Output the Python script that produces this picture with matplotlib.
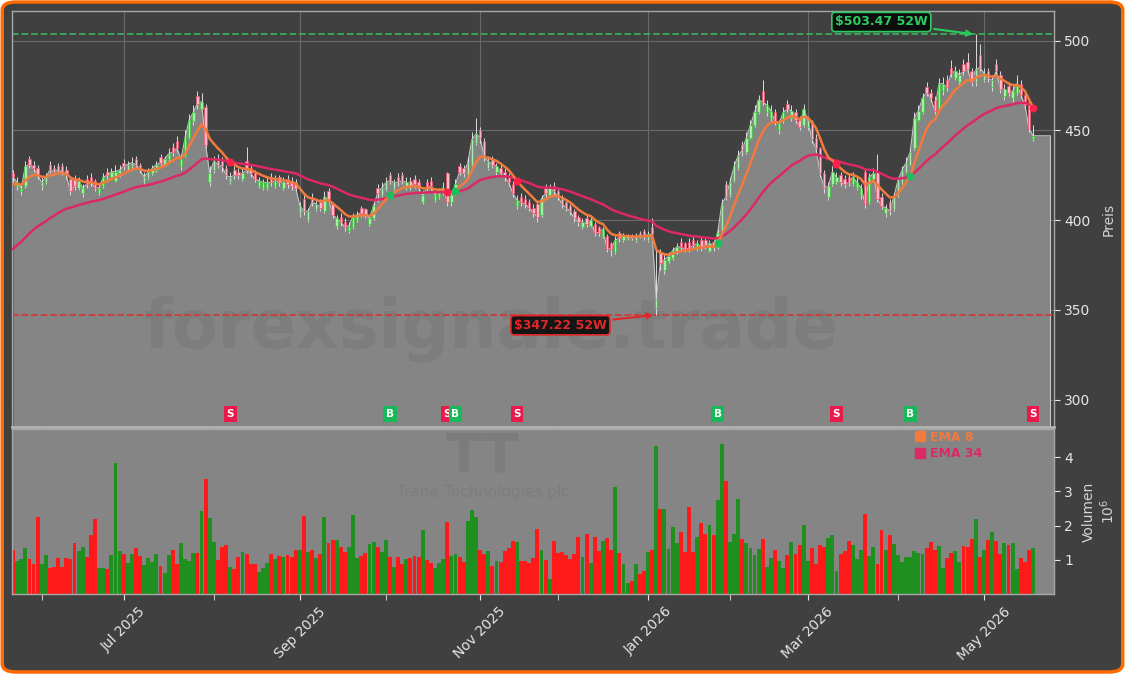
import matplotlib
matplotlib.use('Agg')
import matplotlib.pyplot as plt
import matplotlib.transforms as mtransforms
from matplotlib.patches import FancyBboxPatch
from matplotlib.lines import Line2D
import numpy as np
import pandas as pd

# trading calendar (NYSE holidays removed)
first_day = '2025-05-21'
last_day = '2026-05-19'
holidays = ['2025-05-26', '2025-06-19', '2025-07-04', '2025-09-01', '2025-11-27',
            '2025-12-25', '2026-01-01', '2026-01-19', '2026-02-16', '2026-04-03']
dates = pd.bdate_range(first_day, last_day).drop(pd.to_datetime(holidays))

opens = [
    426, 419, 416, 419, 434, 431, 429, 419, 421, 431,
    429, 430, 430, 428, 423, 423, 418, 415, 423, 424,
    422, 415, 419, 427, 424, 422, 426, 432, 428, 430,
    434, 431, 421, 424, 426, 428, 435, 431, 434, 441,
    444, 430, 436, 446, 455, 469, 462, 463, 421, 428,
    434, 433, 429, 421, 428, 427, 423, 433, 429, 426,
    419, 418, 418, 424, 419, 424, 418, 423, 422, 421,
    404, 412, 400, 413, 406, 410, 405, 416, 409, 397,
    402, 399, 394, 396, 400, 407, 406, 398, 401, 418,
    414, 417, 425, 418, 424, 425, 418, 422, 423, 421,
    410, 421, 422, 411, 413, 415, 426, 410, 415, 430,
    429, 424, 431, 443, 450, 444, 429, 434, 427, 429,
    427, 424, 420, 408, 413, 412, 410, 407, 409, 403,
    418, 414, 419, 416, 413, 410, 408, 405, 402, 396,
    401, 397, 398, 396, 391, 391, 387, 382, 393, 389,
    390, 391, 389, 393, 394, 389, 396, 351, 382, 372,
    377, 379, 382, 388, 387, 388, 389, 384, 389, 389,
    383, 388, 385, 394, 420, 414, 422, 429, 442, 438,
    446, 453, 460, 472, 460, 457, 460, 450, 455, 465,
    457, 460, 456, 453, 452, 455, 446, 440, 426, 413,
    420, 421, 425, 423, 424, 420, 418, 414, 427, 410,
    423, 427, 413, 404, 410, 406, 414, 421, 427, 431,
    440, 456, 460, 474, 471, 467, 462, 472, 478, 485,
    479, 477, 487, 488, 483, 477, 492, 478, 483, 474,
    487, 481, 469, 475, 468, 471, 476, 470, 466, 445,
]
highs = [
    428, 424, 420, 433, 436, 433, 431, 424, 426, 433,
    431, 432, 432, 430, 424, 425, 424, 420, 425, 426,
    423, 420, 426, 429, 429, 431, 431, 434, 433, 435,
    436, 432, 427, 429, 431, 433, 437, 436, 440, 443,
    447, 437, 450, 459, 464, 472, 471, 465, 430, 436,
    437, 435, 431, 427, 430, 429, 429, 441, 431, 428,
    424, 423, 424, 426, 425, 425, 424, 425, 424, 423,
    410, 414, 407, 415, 411, 412, 416, 418, 410, 403,
    404, 401, 399, 404, 405, 408, 407, 403, 410, 420,
    421, 424, 427, 423, 426, 427, 424, 424, 425, 423,
    417, 423, 424, 416, 418, 421, 427, 416, 423, 432,
    431, 435, 449, 457, 452, 446, 436, 436, 432, 431,
    429, 426, 422, 414, 415, 414, 412, 409, 410, 414,
    420, 420, 421, 418, 414, 411, 409, 406, 403, 401,
    403, 402, 399, 397, 396, 392, 388, 391, 394, 393,
    392, 392, 393, 394, 395, 394, 401, 385, 384, 381,
    382, 385, 387, 390, 388, 390, 391, 389, 391, 390,
    389, 389, 395, 412, 422, 424, 433, 439, 444, 449,
    456, 464, 470, 478, 467, 464, 462, 456, 463, 467,
    464, 462, 458, 465, 458, 456, 448, 441, 428, 421,
    430, 427, 427, 425, 426, 427, 424, 420, 429, 426,
    429, 437, 415, 409, 412, 415, 424, 430, 435, 441,
    460, 464, 471, 477, 473, 469, 479, 480, 481, 489,
    486, 484, 490, 493, 485, 503.47, 498, 485, 485, 481,
    490, 483, 476, 477, 475, 481, 478, 472, 468, 453,
]
lows = [
    421, 417, 414, 418, 429, 427, 423, 417, 420, 426,
    425, 426, 425, 423, 414, 417, 417, 413, 418, 419,
    416, 414, 418, 423, 423, 421, 424, 428, 427, 428,
    429, 426, 419, 423, 425, 427, 430, 430, 433, 436,
    438, 428, 435, 445, 453, 462, 460, 440, 419, 426,
    429, 427, 423, 420, 423, 423, 422, 426, 424, 421,
    418, 417, 417, 419, 418, 419, 417, 418, 417, 416,
    402, 403, 399, 408, 405, 405, 404, 410, 401, 395,
    397, 394, 393, 395, 399, 402, 401, 397, 400, 410,
    413, 416, 420, 417, 419, 420, 417, 417, 418, 416,
    409, 416, 417, 410, 412, 414, 408, 408, 414, 425,
    424, 423, 430, 442, 443, 433, 428, 429, 425, 424,
    422, 419, 413, 406, 408, 407, 405, 402, 399, 402,
    413, 413, 414, 411, 407, 405, 403, 399, 397, 395,
    396, 396, 391, 391, 390, 382, 380, 381, 388, 388,
    389, 389, 388, 390, 389, 388, 391, 347.22, 372, 370,
    376, 378, 381, 383, 382, 382, 384, 383, 383, 384,
    382, 383, 384, 393, 411, 413, 421, 428, 436, 437,
    445, 452, 459, 464, 458, 455, 453, 448, 454, 460,
    455, 454, 450, 452, 450, 443, 438, 424, 415, 411,
    419, 420, 419, 418, 419, 419, 417, 412, 407, 409,
    421, 410, 406, 402, 403, 405, 413, 420, 426, 430,
    439, 455, 459, 469, 466, 459, 461, 470, 472, 480,
    478, 476, 481, 482, 475, 475, 483, 477, 477, 472,
    481, 471, 467, 469, 466, 470, 468, 462, 449, 444,
]
closes = [
    424, 421, 418, 430, 431, 429, 425, 421, 424, 428,
    427, 428, 427, 425, 416, 419, 422, 418, 420, 421,
    418, 418, 424, 425, 427, 427, 428, 430, 431, 432,
    431, 428, 424, 427, 429, 431, 432, 434, 437, 438,
    440, 434, 446, 456, 460, 465, 466, 442, 426, 433,
    431, 430, 425, 424, 425, 425, 426, 428, 426, 423,
    422, 421, 421, 421, 422, 421, 421, 420, 419, 418,
    408, 405, 405, 410, 409, 407, 413, 412, 403, 401,
    399, 396, 397, 402, 403, 404, 403, 401, 408, 415,
    418, 421, 422, 421, 421, 422, 421, 419, 420, 418,
    414, 418, 419, 414, 416, 418, 410, 414, 420, 427,
    426, 432, 445, 448, 446, 435, 433, 431, 430, 426,
    424, 421, 415, 411, 410, 409, 407, 404, 402, 412,
    415, 418, 416, 413, 409, 407, 405, 401, 399, 399,
    398, 400, 393, 393, 395, 384, 384, 389, 390, 391,
    391, 390, 391, 391, 391, 392, 392, 356, 376, 378,
    380, 383, 385, 385, 384, 384, 386, 387, 385, 386,
    387, 385, 393, 409, 413, 421, 430, 436, 439, 446,
    453, 460, 467, 466, 464, 461, 455, 454, 460, 462,
    461, 456, 452, 462, 456, 445, 440, 426, 418, 419,
    427, 424, 421, 420, 421, 424, 421, 418, 409, 424,
    426, 412, 408, 407, 405, 413, 422, 428, 432, 438,
    457, 461, 468, 471, 468, 461, 476, 476, 474, 482,
    483, 481, 483, 484, 477, 484, 485, 482, 479, 478,
    483, 473, 473, 471, 472, 476, 470, 464, 451, 447,
]
# volume in millions of shares
volume_m = [
    1.30, 0.96, 1.03, 1.34, 1.03, 0.87, 2.25, 0.87, 1.13, 0.75,
    0.80, 1.06, 0.80, 1.06, 1.01, 1.48, 1.25, 1.39, 1.09, 1.72,
    2.20, 0.77, 0.77, 0.74, 1.13, 3.82, 1.25, 1.17, 0.91, 1.17,
    1.34, 1.10, 0.84, 1.06, 0.93, 1.17, 0.82, 0.60, 1.13, 1.29,
    0.89, 1.48, 1.01, 0.98, 1.20, 1.20, 2.42, 3.37, 2.22, 1.51,
    1.00, 1.39, 1.43, 0.80, 0.74, 1.09, 1.23, 1.17, 0.89, 0.89,
    0.63, 0.76, 0.91, 1.17, 1.01, 1.10, 1.09, 1.13, 1.09, 1.29,
    1.29, 2.28, 1.23, 1.29, 1.06, 1.17, 2.26, 1.48, 1.57, 1.57,
    1.39, 1.23, 1.37, 2.31, 1.06, 1.12, 1.20, 1.46, 1.51, 1.37,
    1.23, 1.57, 1.09, 0.80, 1.09, 0.89, 1.03, 1.06, 1.11, 1.09,
    1.86, 1.00, 0.91, 0.76, 0.91, 1.03, 2.12, 1.11, 1.17, 1.09,
    0.94, 2.14, 2.46, 2.26, 1.29, 1.17, 1.26, 0.83, 0.97, 0.94,
    1.26, 1.34, 1.54, 1.51, 0.97, 0.97, 0.90, 1.05, 1.90, 1.30,
    1.00, 0.45, 1.55, 1.20, 1.23, 1.15, 1.01, 1.17, 1.66, 1.08,
    1.77, 0.91, 1.66, 1.25, 1.56, 1.63, 1.28, 3.13, 1.20, 0.88,
    0.31, 0.39, 0.88, 0.58, 0.66, 1.22, 1.28, 4.34, 2.50, 2.50,
    1.31, 1.96, 1.50, 1.82, 1.22, 2.56, 1.23, 1.66, 2.08, 1.76,
    2.03, 1.72, 2.74, 4.39, 3.30, 1.53, 1.77, 2.77, 1.60, 1.50,
    1.34, 1.15, 1.31, 1.60, 0.80, 1.06, 1.28, 0.98, 0.77, 1.15,
    1.53, 1.18, 1.44, 2.01, 0.96, 1.34, 0.87, 1.44, 1.39, 1.63,
    1.72, 0.68, 1.17, 1.26, 1.55, 1.44, 1.01, 1.29, 2.34, 1.10,
    1.39, 0.87, 1.87, 1.29, 1.72, 1.46, 1.15, 0.93, 1.08, 1.08,
    1.25, 1.20, 1.17, 1.34, 1.51, 1.29, 1.41, 0.75, 1.04, 1.20,
    1.25, 0.94, 1.41, 1.39, 1.61, 2.20, 1.09, 1.28, 1.58, 1.82,
    1.56, 1.17, 1.50, 1.42, 1.48, 0.74, 1.06, 0.94, 1.28, 1.34,
]

# EMA values on the first visible day (history before the window)
ema8_start = 420.0
ema34_start = 384.0

signal_dates = ['2025-08-07', '2025-10-02', '2025-10-22', '2025-10-24', '2025-11-14',
                '2026-01-28', '2026-03-11', '2026-04-07', '2026-05-19']
signal_types = ['S', 'B', 'S', 'B', 'S', 'B', 'S', 'B', 'S']

company = 'Trane Technologies plc'
watermark = 'forexsignale.trade'

assert len(dates) == len(closes) == len(opens) == len(highs) == len(lows) == len(volume_m), \
    (len(dates), len(closes), len(opens), len(highs), len(lows), len(volume_m))

# colours
BG = '#404040'
AREA = '#858585'
TXT = '#e6e6e6'
ORANGE = '#f27a3c'
PINK = '#dc2864'
UP_VOL = '#1f8f1f'
DOWN_VOL = '#ff1a1a'


def ema(values, span, start):
    a = 2.0 / (span + 1)
    out = [start]
    for v in values[1:]:
        out.append(out[-1] + a * (v - out[-1]))
    return np.array(out)


o = np.array(opens, dtype=float)
h = np.array(highs, dtype=float)
l = np.array(lows, dtype=float)
c = np.array(closes, dtype=float)
vol = np.array(volume_m)
n = len(c)
x = np.arange(n)
up = c >= o

ema8 = ema(c, 8, ema8_start)
ema34 = ema(c, 34, ema34_start)

low_52w = l.min()
high_52w = h.max()
i_low = int(l.argmin())
i_high = int(h.argmax())

fig = plt.figure(figsize=(11.25, 6.74), dpi=100)
fig.patch.set_facecolor('white')
frame = FancyBboxPatch((0.002, 0.003), 0.996, 0.994,
                       boxstyle='round,pad=0,rounding_size=0.012',
                       transform=fig.transFigure, fc=BG, ec='#ff6a00', lw=2.5, zorder=-10)
fig.add_artist(frame)

ax = fig.add_axes([0.0107, 0.3665, 0.9262, 0.6172])
axv = fig.add_axes([0.0107, 0.1187, 0.9262, 0.2448], sharex=ax)

ax.set_facecolor(BG)
axv.set_facecolor(AREA)

ylo = low_52w * 0.82
yhi = high_52w * 1.026
ax.set_ylim(ylo, yhi)
ax.set_xlim(-0.25, n + 4.1)

# price area, extended flat past the last bar
fill_x = np.append(x, n + 3.2)
fill_y = np.append(c, c[-1])
ax.fill_between(fill_x, fill_y, ylo, color=AREA, lw=0, zorder=1)
ax.plot(fill_x, fill_y, color='#c4c4c4', lw=0.8, zorder=1.2)
ax.plot([fill_x[-1], fill_x[-1]], [ylo, fill_y[-1]], color='#c4c4c4', lw=0.8, zorder=1.2)

ax.text(0.46, 0.235, watermark, transform=ax.transAxes, fontsize=48, fontweight='bold',
        color='#7d7d7d', ha='center', va='center', zorder=1.5)

# candles
ax.vlines(x, l, h, color='#dcdcdc', lw=0.7, zorder=3)
ax.bar(x[up], (c - o)[up], bottom=o[up], width=0.6, color='#a6eea6',
       edgecolor='#3cbf3c', lw=0.5, zorder=4)
ax.bar(x[~up], (o - c)[~up], bottom=c[~up], width=0.6, color='#ffb8c6',
       edgecolor='#f0506e', lw=0.5, zorder=4)

ax.plot(x, ema34, color=PINK, lw=1.8, zorder=5)
ax.plot(x, ema8, color=ORANGE, lw=1.8, zorder=5.1)

# 52 week lines
ax.axhline(high_52w, color='#3aaa5a', ls='--', lw=1.3, zorder=2.5)
ax.axhline(low_52w, color='#d03a3a', ls='--', lw=1.3, zorder=2.5)
ax.annotate(f'${high_52w:.2f} 52W', xy=(i_high, high_52w), xytext=(-68, 9),
            textcoords='offset points', ha='center', va='center', color='#2ecc60',
            fontsize=9, fontweight='bold', zorder=8,
            bbox=dict(boxstyle='round,pad=0.25', fc='#0d0d0d', ec='#2ecc60', lw=1.2),
            arrowprops=dict(arrowstyle='->', color='#2ecc60', lw=1.5))
ax.annotate(f'${low_52w:.2f} 52W', xy=(i_low, low_52w), xytext=(-69, -7.5),
            textcoords='offset points', ha='center', va='center', color='#e02828',
            fontsize=9, fontweight='bold', zorder=8,
            bbox=dict(boxstyle='round,pad=0.25', fc='#151515', ec='#e02828', lw=1.2),
            arrowprops=dict(arrowstyle='->', color='#e02828', lw=1.5))

# buy / sell signals
trans = mtransforms.blended_transform_factory(ax.transData, ax.transAxes)
for d, t in zip(signal_dates, signal_types):
    i = dates.get_loc(pd.Timestamp(d))
    col = '#19c05a' if t == 'B' else '#ff1f4b'
    box = '#16b85a' if t == 'B' else '#e8194b'
    ax.scatter(i, ema8[i], s=32, color=col, zorder=6, lw=0)
    ax.text(i, 0.031, t, transform=trans, ha='center', va='center', fontsize=7.5,
            fontweight='bold', color='white', zorder=7,
            bbox=dict(boxstyle='square,pad=0.25', fc=box, ec='none'))

# volume
vcol = np.where(up, UP_VOL, DOWN_VOL)
axv.bar(x, vol, width=0.95, color=vcol, zorder=2)
axv.set_ylim(0, vol.max() * 1.1)
axv.text(0.451, 0.835, 'TT', transform=axv.transAxes, fontsize=38, fontweight='bold',
         color='#7c7c7c', ha='center', va='center', zorder=0.5)
axv.text(0.452, 0.615, company, transform=axv.transAxes, fontsize=11,
         color='#7d7d7d', ha='center', va='center', zorder=0.5)

handles = [Line2D([], [], marker='s', ls='', color=ORANGE, markersize=6.5),
           Line2D([], [], marker='s', ls='', color=PINK, markersize=6.5)]
axv.legend(handles, ['EMA 8', 'EMA 34'], loc='upper left', bbox_to_anchor=(0.862, 1.02),
           frameon=False, prop={'weight': 'bold', 'size': 9}, labelcolor=[ORANGE, PINK],
           handlelength=0.8, handletextpad=0.4, borderaxespad=0, labelspacing=0.3)

# month ticks at first trading day of each month
month_idx = [i for i in range(1, n) if dates[i].month != dates[i - 1].month]
major = [i for i in month_idx if dates[i].month % 2 == 1]
minor = [i for i in month_idx if dates[i].month % 2 == 0]

ax.set_xticks(month_idx)
ax.tick_params(axis='x', length=0, labelbottom=False)
ax.grid(True, axis='x', color='#6a6a6a', lw=0.8, zorder=0)
ax.grid(True, axis='y', color='#6a6a6a', lw=0.8, zorder=0)
ax.set_axisbelow(True)

axv.set_xticks(major)
axv.set_xticklabels([dates[i].strftime('%b %Y') for i in major], rotation=45, ha='center')
axv.set_xticks(minor, minor=True)
axv.tick_params(axis='x', which='both', colors=TXT, length=4, labelsize=10)
axv.grid(False)

for a in (ax, axv):
    a.yaxis.tick_right()
    a.yaxis.set_label_position('right')
    a.tick_params(axis='y', colors=TXT, labelsize=10, length=4)
    for s in a.spines.values():
        s.set_color('#a8a8a8')
        s.set_linewidth(1.0)
ax.spines['bottom'].set_linewidth(2.0)
ax.spines['bottom'].set_color('#b4b4b4')

ax.set_yticks([300, 350, 400, 450, 500])
axv.set_yticks([1, 2, 3, 4])
ax.set_ylabel('Preis', color='#d4d4d4', fontsize=10, labelpad=8)
axv.set_ylabel('Volumen\n$10^6$', color='#d4d4d4', fontsize=10, labelpad=6)

fig.savefig('out.png', dpi=100, facecolor=fig.get_facecolor())
